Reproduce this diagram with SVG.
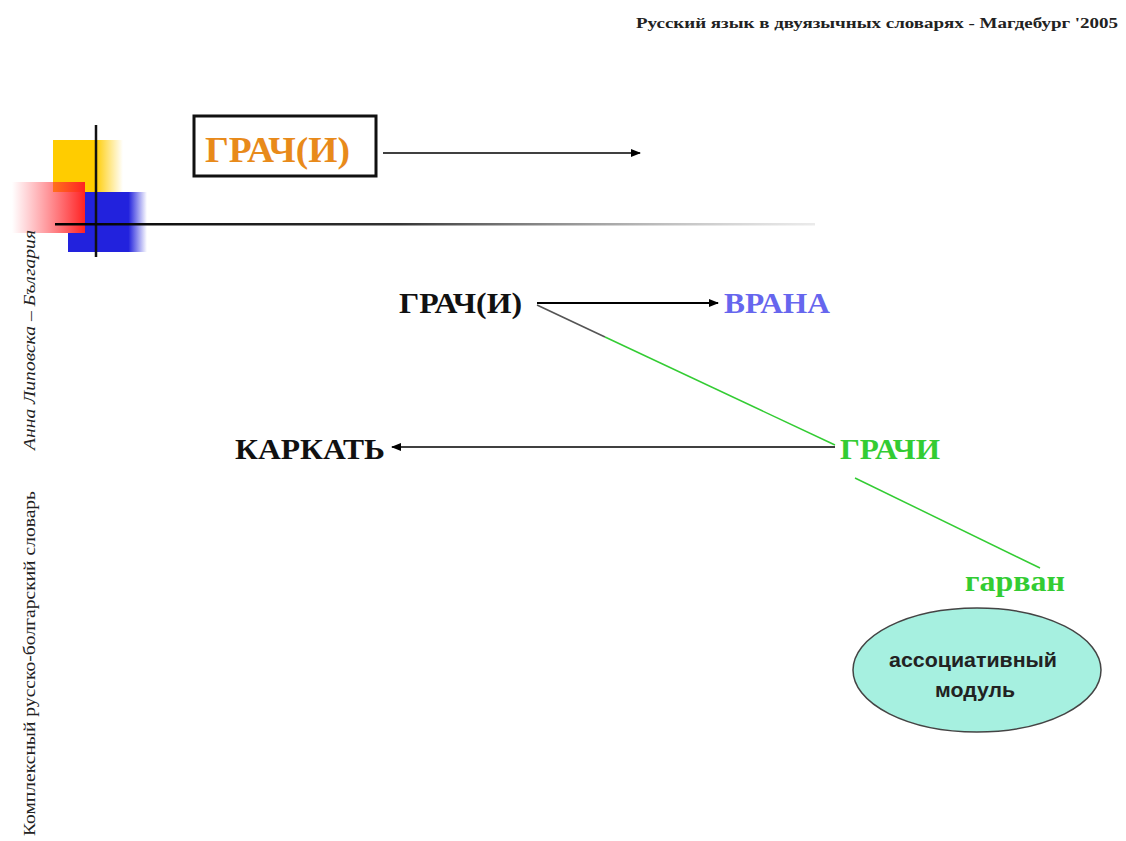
<svg xmlns="http://www.w3.org/2000/svg" width="1126" height="841" viewBox="0 0 1126 841">
<style>
.ser{font-family:"Liberation Serif","DejaVu Serif",serif;font-weight:bold}
.lbl{font-size:29px}
.ln{stroke:#000;stroke-width:1.5;fill:none}
.gr{stroke:#33CC33;stroke-width:1.5;fill:none}
.sans{font-family:"Liberation Sans",Arial,sans-serif;font-weight:bold;font-size:20px;fill:#222}
</style>
<defs>
<marker id="ah" markerWidth="10" markerHeight="8" refX="9" refY="4" orient="auto" markerUnits="userSpaceOnUse">
<path d="M0,0 L10,4 L0,8 Z" fill="#000"/>
</marker>
<linearGradient id="yel" x1="0" x2="1" y1="0" y2="0">
<stop offset="0" stop-color="#FFCC00"/><stop offset="0.6" stop-color="#FFCC00"/><stop offset="1" stop-color="#FFCC00" stop-opacity="0"/>
</linearGradient>
<linearGradient id="red" x1="0" x2="1" y1="0" y2="0">
<stop offset="0" stop-color="#FF3344" stop-opacity="0"/><stop offset="1" stop-color="#FF2222"/>
</linearGradient>
<linearGradient id="blu" x1="0" x2="1" y1="0" y2="0">
<stop offset="0" stop-color="#2222DD"/><stop offset="0.7" stop-color="#2222DD"/><stop offset="1" stop-color="#2222DD" stop-opacity="0"/>
</linearGradient>
<linearGradient id="hl" x1="0" x2="1" y1="0" y2="0">
<stop offset="0" stop-color="#000"/><stop offset="0.45" stop-color="#333"/><stop offset="1" stop-color="#bbb" stop-opacity="0.3"/>
</linearGradient>
</defs>
<rect width="1126" height="841" fill="#fff"/>
<text x="636" y="28" textLength="482" lengthAdjust="spacingAndGlyphs" class="ser" font-size="15" fill="#222">Русский язык в двуязычных словарях - Магдебург '2005</text>
<g id="decor">
<rect x="53" y="140" width="70" height="52" fill="url(#yel)"/>
<rect x="85" y="192" width="62" height="60" fill="url(#blu)"/>
<rect x="68" y="233" width="40" height="19" fill="#2222DD"/>
<rect x="12" y="182" width="73" height="51" fill="url(#red)"/>
<line x1="96" y1="125" x2="96" y2="257" stroke="#111" stroke-width="2.5"/>
<rect x="55" y="223" width="760" height="2.5" fill="url(#hl)"/>
</g>
<g transform="translate(35,836) rotate(-90)">
<text x="0" y="0" textLength="345" lengthAdjust="spacingAndGlyphs" font-family="Liberation Serif,serif" font-size="16" fill="#222">Комплексный русско-болгарский словарь</text>
<text x="386" y="0" textLength="220" lengthAdjust="spacingAndGlyphs" font-family="Liberation Serif,serif" font-style="italic" font-size="16" fill="#222">Анна Липовска – България</text>
</g>
<g id="connectors">
<line x1="383" y1="153" x2="640" y2="153" class="ln" marker-end="url(#ah)"/>
<line x1="537" y1="303" x2="718" y2="303" stroke="#000" stroke-width="2" marker-end="url(#ah)"/>
<path d="M537,305 L605,337" stroke="#555" stroke-width="1.5" fill="none"/>
<path d="M605,337 L835,445" class="gr"/>
<line x1="835" y1="447" x2="392" y2="447" class="ln" marker-end="url(#ah)"/>
<line x1="855" y1="478" x2="1040" y2="568" class="gr"/>
</g>
<g id="node-grachi-box">
<rect x="194" y="116" width="182" height="60" fill="#fff" stroke="#111" stroke-width="3"/>
<text x="205" y="162" textLength="145" lengthAdjust="spacingAndGlyphs" class="ser" font-size="36" fill="#E88A1A">ГРАЧ(И)</text>
</g>
<g id="node-grachi">
<text x="399" y="313" textLength="123" lengthAdjust="spacingAndGlyphs" class="ser lbl" fill="#111">ГРАЧ(И)</text>
</g>
<g id="node-vrana">
<text x="724" y="313" textLength="106" lengthAdjust="spacingAndGlyphs" class="ser lbl" fill="#6666EE">ВРАНА</text>
</g>
<g id="node-grachi2">
<text x="840" y="459" textLength="100" lengthAdjust="spacingAndGlyphs" class="ser lbl" fill="#33CC33">ГРАЧИ</text>
</g>
<g id="node-karkat">
<text x="235" y="459" textLength="150" lengthAdjust="spacingAndGlyphs" class="ser lbl" fill="#111">КАРКАТЬ</text>
</g>
<g id="node-garvan">
<text x="965" y="591" textLength="100" lengthAdjust="spacingAndGlyphs" class="ser lbl" fill="#33CC33">гарван</text>
</g>
<g id="node-module">
<ellipse cx="977" cy="670" rx="124" ry="62" fill="#A6F0E0" stroke="#444" stroke-width="1.5"/>
<text x="889" y="667" textLength="168" lengthAdjust="spacingAndGlyphs" class="sans">ассоциативный</text>
<text x="935" y="697" textLength="80" lengthAdjust="spacingAndGlyphs" class="sans">модуль</text>
</g>
</svg>
